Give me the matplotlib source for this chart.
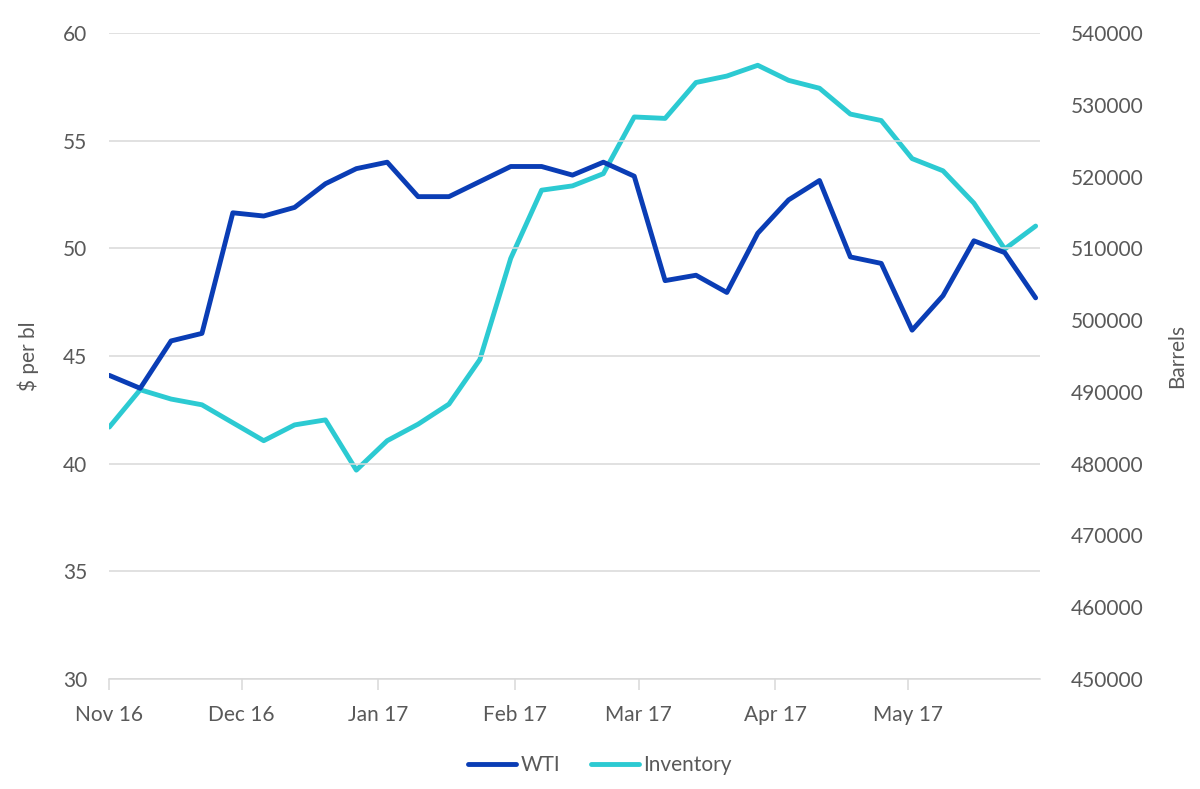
import matplotlib

matplotlib.use("Agg")
import matplotlib.dates as mdates
import matplotlib.pyplot as plt
import pandas as pd

# weekly observations, Nov 2016 - May 2017
dates = pd.date_range("2016-11-01", periods=31, freq="7D")

wti = [
    44.1, 43.5, 45.7, 46.05, 51.65, 51.5, 51.9, 53.0, 53.7, 54.0,
    52.4, 52.4, 53.1, 53.8, 53.8, 53.4, 54.0, 53.35, 48.5, 48.75,
    47.95, 50.7, 52.25, 53.15, 49.6, 49.3, 46.2, 47.8, 50.35, 49.8,
    47.7,
]

inventory = [
    485100, 490300, 489000, 488200, 485700, 483200, 485400, 486100, 479100, 483200,
    485500, 488300, 494500, 508600, 518100, 518700, 520400, 528300, 528100, 533100,
    534000, 535500, 533400, 532300, 528700, 527800, 522500, 520800, 516300, 509900,
    513100,
]

wti_ticks = [30, 35, 40, 45, 50, 55, 60]
inv_ticks = list(range(450000, 540001, 10000))

WTI_COLOR = "#0a3db5"
INV_COLOR = "#2ccad2"
TEXT = "#595959"
GRID = "#d9d9d9"
FS = 15

plt.rcParams["font.family"] = ["Lato", "DejaVu Sans"]

fig = plt.figure(figsize=(12, 7.89), dpi=100)
ax = fig.add_axes([0.0911, 0.1394, 0.7756, 0.8188])
ax2 = ax.twinx()

ax.plot(dates, wti, color=WTI_COLOR, lw=3.5, label="WTI",
        solid_joinstyle="round", solid_capstyle="round", zorder=3)
ax2.plot(dates, inventory, color=INV_COLOR, lw=3.5, label="Inventory",
         solid_joinstyle="round", solid_capstyle="round", zorder=2)

# draw WTI over inventory
ax.set_zorder(ax2.get_zorder() + 1)
ax.patch.set_visible(False)

ax.set_xlim(pd.Timestamp("2016-11-01"), pd.Timestamp("2017-05-31"))
ax.set_ylim(30, 60)
ax2.set_ylim(450000, 540000)
ax.set_yticks(wti_ticks)
ax2.set_yticks(inv_ticks)

ax.xaxis.set_major_locator(mdates.MonthLocator())
ax.xaxis.set_major_formatter(mdates.DateFormatter("%b %y"))

ax.grid(axis="y", color=GRID, lw=1.1)
ax.set_axisbelow(True)

for a in (ax, ax2):
    for s in ("top", "left", "right", "bottom"):
        a.spines[s].set_visible(False)

ax.spines["bottom"].set_visible(True)
ax.spines["bottom"].set_color(GRID)
ax.spines["bottom"].set_linewidth(1.1)

ax.tick_params(axis="x", colors=GRID, length=8, width=1.1, pad=11,
               labelcolor=TEXT, labelsize=FS)
ax.tick_params(axis="y", length=0, pad=16, labelcolor=TEXT, labelsize=FS)
ax2.tick_params(axis="y", length=0, pad=22, labelcolor=TEXT, labelsize=FS)

ax.set_ylabel(r"\$ per bl", color=TEXT, fontsize=FS, labelpad=17)
ax2.set_ylabel("Barrels", color=TEXT, fontsize=FS, rotation=90, labelpad=17)

h1, l1 = ax.get_legend_handles_labels()
h2, l2 = ax2.get_legend_handles_labels()
fig.legend(h1 + h2, l1 + l2, loc="center", bbox_to_anchor=(0.5, 0.03),
           ncol=2, frameon=False, fontsize=FS, labelcolor=TEXT,
           handlelength=2.3, handletextpad=0.2, columnspacing=1.5)

fig.savefig("out.png", dpi=100)
